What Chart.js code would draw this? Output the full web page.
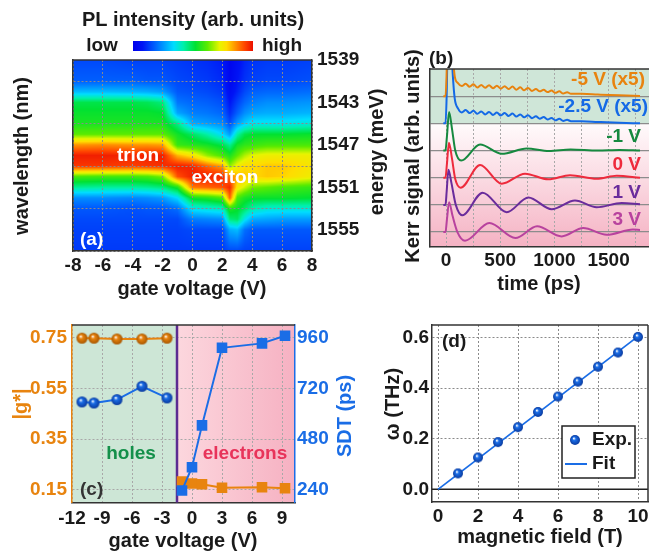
<!DOCTYPE html>
<html lang="en">
<head>
<meta charset="UTF-8">
<title>PL map, Kerr signal, g-factor and precession</title>
<script src="https://cdn.jsdelivr.net/npm/chart.js@4.4.1/dist/chart.umd.min.js"></script>
<style>
  html, body { margin: 0; padding: 0; background: #fff; overflow: hidden; }
  body { width: 649px; height: 552px; position: relative; }
  canvas { position: absolute; }
</style>
</head>
<body>
<canvas id="chartA" width="395" height="303" style="left:0px;top:0px"></canvas>
<canvas id="chartB" width="254" height="270" style="left:395px;top:30px"></canvas>
<canvas id="chartC" width="365" height="252" style="left:0px;top:300px"></canvas>
<canvas id="chartD" width="292" height="252" style="left:365px;top:300px"></canvas>
<script>
// ---------- (a) PL map ----------
const gateV = [-8, -6, -4, -3, -2, -1, 0, 1, 2, 2.5, 3, 3.5, 4, 5, 6, 8];
const wavelength = [806, 805, 804.5, 804, 803.5, 803, 802.5, 802, 801.5, 801, 800.5, 800, 799.5, 799, 798.5, 798, 797];
// one PL profile per gate voltage (same order as wavelength), 0 = low .. 1 = high
const plMap = [
  [0.15, 0.18, 0.30, 0.50, 0.53, 0.55, 0.62, 0.85, 0.98, 0.95, 0.60, 0.44, 0.24, 0.17, 0.15, 0.14, 0.13],
  [0.15, 0.18, 0.30, 0.50, 0.53, 0.55, 0.62, 0.86, 0.98, 0.95, 0.59, 0.43, 0.24, 0.17, 0.15, 0.14, 0.13],
  [0.14, 0.18, 0.29, 0.50, 0.53, 0.55, 0.62, 0.85, 0.97, 0.94, 0.59, 0.43, 0.23, 0.16, 0.15, 0.14, 0.13],
  [0.14, 0.17, 0.28, 0.49, 0.53, 0.55, 0.62, 0.85, 0.98, 0.95, 0.60, 0.44, 0.24, 0.17, 0.15, 0.14, 0.13],
  [0.14, 0.17, 0.26, 0.46, 0.52, 0.55, 0.62, 0.84, 0.98, 0.96, 0.64, 0.46, 0.26, 0.17, 0.15, 0.14, 0.13],
  [0.13, 0.15, 0.17, 0.21, 0.27, 0.45, 0.54, 0.58, 0.82, 0.98, 0.92, 0.55, 0.34, 0.20, 0.15, 0.14, 0.13],
  [0.12, 0.14, 0.16, 0.19, 0.22, 0.28, 0.48, 0.56, 0.76, 0.97, 0.98, 0.88, 0.54, 0.36, 0.22, 0.15, 0.13],
  [0.11, 0.13, 0.15, 0.18, 0.21, 0.26, 0.42, 0.54, 0.66, 0.90, 0.98, 0.90, 0.56, 0.38, 0.23, 0.15, 0.13],
  [0.09, 0.11, 0.13, 0.16, 0.19, 0.24, 0.34, 0.50, 0.60, 0.84, 0.97, 0.92, 0.60, 0.40, 0.24, 0.15, 0.13],
  [0.02, 0.03, 0.05, 0.08, 0.11, 0.16, 0.26, 0.44, 0.55, 0.66, 0.88, 0.97, 0.90, 0.56, 0.46, 0.28, 0.15],
  [0.06, 0.08, 0.10, 0.14, 0.18, 0.26, 0.42, 0.54, 0.62, 0.74, 0.82, 0.76, 0.60, 0.53, 0.48, 0.30, 0.15],
  [0.10, 0.12, 0.15, 0.19, 0.24, 0.32, 0.50, 0.57, 0.68, 0.78, 0.80, 0.70, 0.55, 0.48, 0.36, 0.20, 0.14],
  [0.12, 0.14, 0.18, 0.22, 0.27, 0.36, 0.52, 0.58, 0.72, 0.78, 0.78, 0.64, 0.53, 0.42, 0.28, 0.17, 0.14],
  [0.13, 0.15, 0.19, 0.24, 0.28, 0.36, 0.52, 0.60, 0.74, 0.80, 0.80, 0.62, 0.53, 0.38, 0.27, 0.17, 0.14],
  [0.13, 0.15, 0.19, 0.24, 0.28, 0.36, 0.52, 0.60, 0.74, 0.80, 0.79, 0.60, 0.53, 0.38, 0.26, 0.17, 0.14],
  [0.14, 0.16, 0.20, 0.25, 0.29, 0.38, 0.53, 0.60, 0.74, 0.76, 0.74, 0.58, 0.52, 0.38, 0.26, 0.17, 0.14]
];
const energyAt = [806, 804, 802, 800, 798];
const energyLabels = ['1539', '1543', '1547', '1551', '1555'];

// ---------- (b) Kerr traces ----------
const kerrLabels = ['-5 V (x5)', '-2.5 V (x5)', '-1 V', '0 V', '1 V', '3 V'];
const kerrOffset = [5, 4, 3, 2, 1, 0];
const tFast = [-25, -5, 5, 18, 30, 45, 62, 80, 110, 145, 181, 217, 253, 289, 325, 361, 397, 433, 469, 505, 541,
  577, 613, 649, 685, 721, 757, 793, 829, 865, 901, 937, 973, 1009, 1045, 1081, 1117, 1153, 1250, 1400, 1600, 1790];
const kerrM5 = [0, 0, 0.8, 3.2, 3.5, 3.0, 1.6, 0.74, 0.48, 0.370, 0.458, 0.347, 0.435, 0.323, 0.414, 0.306, 0.401,
  0.294, 0.386, 0.277, 0.369, 0.260, 0.352, 0.240, 0.328, 0.216, 0.304, 0.192, 0.263, 0.179, 0.235, 0.150, 0.205,
  0.122, 0.178, 0.095, 0.146, 0.088, 0.085, 0.06, 0.03, 0.01];
const kerrM25 = [0, 0, 0.9, 3.5, 3.8, 3.2, 1.8, 0.92, 0.55, 0.40, 0.49, 0.38, 0.46, 0.35, 0.44, 0.33, 0.42, 0.31,
  0.40, 0.29, 0.38, 0.27, 0.36, 0.25, 0.33, 0.22, 0.30, 0.19, 0.26, 0.17, 0.23, 0.14, 0.20, 0.11, 0.17, 0.09, 0.13,
  0.08, 0.075, 0.05, 0.02, 0.0];
const tM1 = [-25, -5, 8, 28, 55, 85, 140, 314, 514, 744, 950, 1150, 1400, 1600, 1790];
const kerrM1 = [0, 0, 0.5, 1.42, 0.8, 0.0, -0.37, 0.22, -0.12, 0.07, -0.02, 0.04, 0.0, 0.02, 0.0];
const t0 = [-25, -5, 8, 27, 55, 85, 135, 314, 514, 729, 944, 1144, 1390, 1575, 1790];
const kerr0 = [0, 0, 0.5, 1.29, 0.7, -0.05, -0.37, 0.47, -0.22, 0.15, -0.06, 0.09, -0.04, 0.07, 0.0];
const tP1 = [-25, -5, 6, 22, 50, 90, 150, 338, 560, 760, 975, 1190, 1390, 1621, 1790];
const kerrP1 = [0, 0, 0.5, 1.29, 0.8, 0.0, -0.38, 0.45, -0.27, 0.27, -0.16, 0.16, -0.09, 0.07, 0.02];
const tP3 = [-25, -5, 8, 28, 60, 105, 175, 400, 640, 840, 1067, 1266, 1482, 1725, 1790];
const kerrP3 = [0, 0, 0.45, 1.10, 0.6, 0.0, -0.32, 0.33, -0.22, 0.21, -0.16, 0.15, -0.10, 0.09, 0.08];

// ---------- (c) g-factor and spin dephasing time ----------
const holesV = [-11, -9.8, -7.5, -5, -2.5];
const electronsV = [-1, 0, 1, 3, 7, 9.3];
const gHoles = [0.748, 0.748, 0.745, 0.745, 0.748];
const gElectrons = [0.183, 0.175, 0.172, 0.158, 0.160, 0.156];
const sdtHoles = [656, 651, 667, 730, 675];
const sdtElectrons = [237, 347, 545, 912, 933, 969];

// ---------- (d) precession frequency ----------
const fieldT = [1, 2, 3, 4, 5, 6, 7, 8, 9, 10];
const omegaTHz = [0.063, 0.126, 0.187, 0.246, 0.306, 0.367, 0.426, 0.485, 0.541, 0.603];
const fitT = [0, 10];
const fitTHz = [0, 0.605];

// ---------- styling ----------
const FONT = "'Liberation Sans', Arial, Helvetica, sans-serif";
Chart.defaults.font.family = FONT;
Chart.defaults.font.size = 19;
Chart.defaults.font.weight = 'bold';
Chart.defaults.color = '#1a1a1a';
Chart.defaults.animation = false;
Chart.defaults.responsive = false;
Chart.defaults.plugins.legend.display = false;
Chart.defaults.plugins.tooltip.enabled = false;

const ORANGE = '#e8840f', BLUE = '#1a6de6';
const traceColors = ['#e8830f', '#1469e6', '#16893f', '#ee2a3c', '#6a2c9c', '#b8429e'];
const cmapPos = [0, 0.08, 0.2, 0.34, 0.42, 0.52, 0.62, 0.72, 0.78, 0.86, 0.93, 1];
const cmapRgb = [[0, 0, 235], [0, 20, 245], [0, 110, 255], [0, 220, 255], [0, 240, 170], [0, 225, 50],
  [90, 235, 0], [230, 245, 0], [255, 220, 0], [255, 140, 0], [255, 70, 0], [235, 15, 0]];

function colormap(v) {
  v = Math.max(0, Math.min(1, v));
  for (let k = 1; k < cmapPos.length; k++) {
    if (v <= cmapPos[k]) {
      const t = (v - cmapPos[k - 1]) / (cmapPos[k] - cmapPos[k - 1]);
      return cmapRgb[k - 1].map((c, n) => c + t * (cmapRgb[k][n] - c));
    }
  }
  return cmapRgb[cmapRgb.length - 1];
}

// index + fraction of v inside a monotonic list of nodes
function locate(nodes, v) {
  for (let k = 0; k < nodes.length - 1; k++) {
    const a = nodes[k], b = nodes[k + 1];
    if ((v - a) * (v - b) <= 0) return [k, (v - a) / (b - a)];
  }
  const asc = nodes[1] > nodes[0];
  return (asc ? v < nodes[0] : v > nodes[0]) ? [0, 0] : [nodes.length - 2, 1];
}

function text(ctx, str, x, y, o = {}) {
  ctx.save();
  ctx.font = `bold ${o.size || 19}px ${FONT}`;
  ctx.fillStyle = o.color || '#1a1a1a';
  ctx.textAlign = o.align || 'center';
  ctx.textBaseline = 'middle';
  ctx.translate(x, y);
  if (o.rotate) ctx.rotate(o.rotate);
  ctx.fillText(str, 0, 0);
  ctx.restore();
}

function line(ctx, x1, y1, x2, y2, color, width) {
  ctx.save();
  ctx.strokeStyle = color;
  ctx.lineWidth = width;
  ctx.beginPath();
  ctx.moveTo(x1, y1);
  ctx.lineTo(x2, y2);
  ctx.stroke();
  ctx.restore();
}

function sphere(r, body, rim) {
  const c = document.createElement('canvas');
  const s = Math.ceil(2 * r + 2);
  c.width = c.height = s;
  const g = c.getContext('2d');
  const m = s / 2;
  const grad = g.createRadialGradient(m - 0.25 * r, m - 0.35 * r, 0.05 * r, m, m, r);
  grad.addColorStop(0, '#ffffff');
  grad.addColorStop(0.32, body);
  grad.addColorStop(1, rim);
  g.fillStyle = grad;
  g.beginPath();
  g.arc(m, m, r, 0, Math.PI * 2);
  g.fill();
  return c;
}

const fixW = w => s => { s.width = w; };
const fixH = h => s => { s.height = h; };
const ticksAt = list => s => { s.ticks = list.map(v => ({value: v})); };
const up = -Math.PI / 2;

// ---------- (a) ----------
const decoA = {
  id: 'decoA',
  beforeDraw(chart) {
    const {ctx, chartArea: a, scales} = chart;
    const x0 = Math.round(a.left), y0 = Math.round(a.top);
    const w = Math.round(a.right) - x0, h = Math.round(a.bottom) - y0;
    const img = ctx.createImageData(w, h);
    const cols = [], rows = [];
    for (let i = 0; i < w; i++) cols.push(locate(gateV, scales.x.getValueForPixel(x0 + i + 0.5)));
    for (let j = 0; j < h; j++) rows.push(locate(wavelength, scales.y.getValueForPixel(y0 + j + 0.5)));
    for (let j = 0; j < h; j++) {
      const [r, fr] = rows[j];
      for (let i = 0; i < w; i++) {
        const [c, fc] = cols[i];
        const v = (1 - fc) * ((1 - fr) * plMap[c][r] + fr * plMap[c][r + 1]) +
                  fc * ((1 - fr) * plMap[c + 1][r] + fr * plMap[c + 1][r + 1]);
        const rgb = colormap(v);
        const k = 4 * (j * w + i);
        img.data[k] = rgb[0]; img.data[k + 1] = rgb[1]; img.data[k + 2] = rgb[2]; img.data[k + 3] = 255;
      }
    }
    ctx.putImageData(img, x0, y0);
  },
  afterDraw(chart) {
    const {ctx, chartArea: a} = chart;
    line(ctx, a.left, a.top, a.right, a.top, '#333', 1.5);
    const g = ctx.createLinearGradient(133, 0, 253, 0);
    cmapPos.forEach((p, i) => g.addColorStop(p, `rgb(${cmapRgb[i].join(',')})`));
    ctx.fillStyle = g;
    ctx.fillRect(133, 41, 120, 10);
    text(ctx, 'PL intensity (arb. units)', 193, 20, {size: 20});
    text(ctx, 'low', 102, 46);
    text(ctx, 'high', 282, 46);
    text(ctx, 'trion', 138, 156, {color: '#fff'});
    text(ctx, 'exciton', 225, 178, {color: '#fff'});
    text(ctx, '(a)', 80, 240, {color: '#fff', align: 'left'});
    text(ctx, 'wavelength (nm)', 22, 156, {rotate: up, size: 20});
    text(ctx, 'gate voltage (V)', 192, 289, {size: 20});
    text(ctx, 'energy (meV)', 377, 152, {rotate: up, size: 20});
  }
};

new Chart(document.getElementById('chartA'), {
  type: 'scatter',
  data: {datasets: []},
  options: {
    layout: {padding: {top: 60, left: 0, right: 0, bottom: 0}},
    scales: {
      x: {
        type: 'linear', min: -8, max: 8,
        ticks: {stepSize: 2, padding: 3, autoSkip: false, maxRotation: 0},
        grid: {color: '#8a8a8a', lineWidth: 1, drawTicks: false},
        border: {color: '#333', width: 1.5, dash: [2, 2]},
        afterFit: fixH(52)
      },
      y: {
        type: 'linear', min: 797, max: 806,
        ticks: {stepSize: 1, padding: 5, callback: v => (v % 2 === 0 ? v : '')},
        grid: {color: '#8a8a8a', lineWidth: 1, drawTicks: false},
        border: {color: '#333', width: 1.5, dash: [2, 2]},
        afterFit: fixW(73)
      },
      y2: {
        type: 'linear', position: 'right', min: 797, max: 806,
        afterBuildTicks: ticksAt(energyAt),
        ticks: {padding: 5, callback: v => energyLabels[energyAt.indexOf(v)]},
        grid: {drawOnChartArea: false, drawTicks: false},
        border: {color: '#333', width: 1.5},
        afterFit: fixW(83)
      }
    }
  },
  plugins: [decoA]
});

// ---------- (b) ----------
const kerrTimes = [tFast, tFast, tM1, t0, tP1, tP3];
const kerrValues = [kerrM5, kerrM25, kerrM1, kerr0, kerrP1, kerrP3];
const labelPos = [[250, 50], [253, 77], [246, 107], [246, 135], [246, 162.5], [246, 189.5]];

const decoB = {
  id: 'decoB',
  beforeDraw(chart) {
    const {ctx, chartArea: a, scales: {y}} = chart;
    const yh = y.getPixelForValue(4);
    ctx.fillStyle = '#cfe6d8';
    ctx.fillRect(a.left, a.top, a.right - a.left, yh - a.top);
    const g = ctx.createLinearGradient(0, yh, 0, a.bottom);
    g.addColorStop(0, '#fffbfc');
    g.addColorStop(1, '#f5b2c3');
    ctx.fillStyle = g;
    ctx.fillRect(a.left, yh, a.right - a.left, a.bottom - yh);
  },
  afterDraw(chart) {
    const {ctx, chartArea: a} = chart;
    line(ctx, a.left, a.top, a.right, a.top, '#333', 1.5);
    kerrLabels.forEach((s, i) => text(ctx, s, labelPos[i][0], labelPos[i][1], {color: traceColors[i], align: 'right'}));
    text(ctx, '(b)', 34, 29, {align: 'left'});
    text(ctx, 'Kerr signal (arb. units)', 18, 126, {rotate: up, size: 20});
    text(ctx, 'time (ps)', 144, 254, {size: 20});
  }
};

new Chart(document.getElementById('chartB'), {
  type: 'line',
  data: {
    datasets: kerrValues.map((vals, i) => ({
      label: kerrLabels[i],
      data: vals.map((v, k) => ({x: kerrTimes[i][k], y: kerrOffset[i] + v})),
      borderColor: traceColors[i],
      borderWidth: 2,
      pointRadius: 0,
      cubicInterpolationMode: 'monotone'
    }))
  },
  options: {
    layout: {padding: {top: 39, left: 0, right: 0, bottom: 0}},
    scales: {
      x: {
        type: 'linear', min: -148, max: 1873,
        afterBuildTicks: ticksAt([0, 250, 500, 750, 1000, 1250, 1500, 1750]),
        ticks: {padding: 2, autoSkip: false, maxRotation: 0, callback: v => (v % 500 === 0 ? v : '')},
        grid: {color: '#a8a8a8', lineWidth: 1, drawTicks: false},
        border: {color: '#333', width: 1.5, dash: [2, 2]},
        afterFit: fixH(53)
      },
      y: {
        type: 'linear', min: -0.55, max: 6,
        afterBuildTicks: ticksAt([0, 1, 2, 3, 4, 5]),
        ticks: {display: false},
        grid: {color: '#8c8c8c', lineWidth: 1.3, drawTicks: false},
        border: {color: '#333', width: 1.5},
        afterFit: fixW(35)
      }
    }
  },
  plugins: [decoB]
});

// ---------- (c) ----------
const dividerV = -1.5;
const decoC = {
  id: 'decoC',
  beforeDraw(chart) {
    const {ctx, chartArea: a, scales: {x}} = chart;
    const xd = x.getPixelForValue(dividerV);
    ctx.fillStyle = '#cde6d6';
    ctx.fillRect(a.left, a.top, xd - a.left, a.bottom - a.top);
    const g = ctx.createLinearGradient(xd, 0, a.right, 0);
    g.addColorStop(0, '#fcd7de');
    g.addColorStop(1, '#f6b1c2');
    ctx.fillStyle = g;
    ctx.fillRect(xd, a.top, a.right - xd, a.bottom - a.top);
  },
  beforeDatasetsDraw(chart) {
    const {ctx, chartArea: a, scales: {x}} = chart;
    const xd = x.getPixelForValue(dividerV);
    line(ctx, xd, a.top, xd, a.bottom, '#5b2b91', 2.5);
  },
  afterDraw(chart) {
    const {ctx, chartArea: a} = chart;
    line(ctx, a.left, a.top, a.right, a.top, '#333', 1.5);
    text(ctx, 'holes', 131, 154, {color: '#13904a'});
    text(ctx, 'electrons', 245, 154, {color: '#e8335a'});
    text(ctx, '(c)', 80, 190, {color: '#333', align: 'left'});
    text(ctx, '|g*|', 21, 104, {rotate: up, size: 20, color: ORANGE});
    text(ctx, 'SDT (ps)', 345, 116, {rotate: up, size: 20, color: BLUE});
    text(ctx, 'gate voltage (V)', 183, 241, {size: 20});
  }
};

const sphereOrange = sphere(5.5, ORANGE, '#a85600');
const sphereBlueC = sphere(5.5, BLUE, '#0a3a9e');
const sphereBlueD = sphere(5, BLUE, '#0a3a9e');

new Chart(document.getElementById('chartC'), {
  type: 'line',
  data: {
    datasets: [
      {label: 'SDT holes', yAxisID: 'y2', data: holesV.map((v, i) => ({x: v, y: sdtHoles[i]})),
        borderColor: BLUE, borderWidth: 2, pointStyle: sphereBlueC, pointRadius: 5},
      {label: 'SDT electrons', yAxisID: 'y2', data: electronsV.map((v, i) => ({x: v, y: sdtElectrons[i]})),
        borderColor: BLUE, backgroundColor: BLUE, borderWidth: 2, pointStyle: 'rect', pointRadius: 7.5, pointBorderWidth: 0},
      {label: '|g*| holes', yAxisID: 'y', data: holesV.map((v, i) => ({x: v, y: gHoles[i]})),
        borderColor: ORANGE, borderWidth: 2, pointStyle: sphereOrange, pointRadius: 5},
      {label: '|g*| electrons', yAxisID: 'y', data: electronsV.map((v, i) => ({x: v, y: gElectrons[i]})),
        borderColor: ORANGE, backgroundColor: ORANGE, borderWidth: 2, pointStyle: 'rect', pointRadius: 7.5, pointBorderWidth: 0}
    ]
  },
  options: {
    layout: {padding: {top: 25, left: 0, right: 0, bottom: 0}},
    scales: {
      x: {
        type: 'linear', min: -12, max: 10.3,
        afterBuildTicks: ticksAt([-12, -9, -6, -3, 0, 3, 6, 9]),
        ticks: {padding: 5, autoSkip: false, maxRotation: 0},
        grid: {color: '#a8a8a8', lineWidth: 1, drawTicks: false},
        border: {color: '#333', width: 1.5, dash: [2, 2]},
        afterFit: fixH(49.5)
      },
      y: {
        type: 'linear', min: 0.1, max: 0.8,
        afterBuildTicks: ticksAt([0.15, 0.35, 0.55, 0.75]),
        ticks: {padding: 5, color: ORANGE, callback: v => v.toFixed(2)},
        grid: {color: '#a8a8a8', lineWidth: 1, drawTicks: false},
        border: {color: ORANGE, width: 1.5, dash: [2, 2]},
        afterFit: fixW(72)
      },
      y2: {
        type: 'linear', position: 'right', min: 180, max: 1020,
        afterBuildTicks: ticksAt([240, 480, 720, 960]),
        ticks: {padding: 2, color: BLUE},
        grid: {drawOnChartArea: false, drawTicks: false},
        border: {color: BLUE, width: 1.5},
        afterFit: fixW(70)
      }
    }
  },
  plugins: [decoC]
});

// ---------- (d) ----------
const decoD = {
  id: 'decoD',
  beforeDatasetsDraw(chart) {
    const {ctx, chartArea: a, scales: {y}} = chart;
    const y0 = y.getPixelForValue(0);
    line(ctx, a.left, y0, a.right, y0, '#222', 1.5);
  },
  afterDraw(chart) {
    const {ctx, chartArea: a} = chart;
    line(ctx, a.left, a.top, a.right, a.top, '#333', 1.5);
    line(ctx, a.right, a.top, a.right, a.bottom, '#333', 1.5);
    // legend box
    ctx.save();
    ctx.fillStyle = '#fff';
    ctx.fillRect(197, 126, 73, 52);
    ctx.strokeStyle = '#222';
    ctx.lineWidth = 1.5;
    ctx.strokeRect(197, 126, 73, 52);
    ctx.restore();
    ctx.drawImage(sphereBlueD, 210 - sphereBlueD.width / 2, 140 - sphereBlueD.height / 2);
    text(ctx, 'Exp.', 227, 140, {align: 'left'});
    line(ctx, 200, 164, 222, 164, BLUE, 2);
    text(ctx, 'Fit', 227, 164, {align: 'left'});
    text(ctx, '(d)', 77, 42, {align: 'left'});
    text(ctx, 'ω (THz)', 28, 104, {rotate: up, size: 20});
    text(ctx, 'magnetic field (T)', 175, 237, {size: 20});
  }
};

new Chart(document.getElementById('chartD'), {
  type: 'line',
  data: {
    datasets: [
      {label: 'Exp.', data: fieldT.map((b, i) => ({x: b, y: omegaTHz[i]})), showLine: false,
        pointStyle: sphereBlueD, pointRadius: 5},
      {label: 'Fit', data: fitT.map((b, i) => ({x: b, y: fitTHz[i]})), borderColor: BLUE,
        borderWidth: 1.8, pointRadius: 0}
    ]
  },
  options: {
    layout: {padding: {top: 25, left: 0, right: 9, bottom: 0}},
    scales: {
      x: {
        type: 'linear', min: -0.3, max: 10.5,
        afterBuildTicks: ticksAt([0, 2, 4, 6, 8, 10]),
        ticks: {padding: 3, autoSkip: false, maxRotation: 0},
        grid: {color: '#8a8a8a', lineWidth: 1, drawTicks: false},
        border: {color: '#333', width: 1.5, dash: [2, 2]},
        afterFit: fixH(50)
      },
      y: {
        type: 'linear', min: -0.05, max: 0.65,
        afterBuildTicks: ticksAt([0, 0.2, 0.4, 0.6]),
        ticks: {padding: 3, callback: v => v.toFixed(1)},
        grid: {color: '#8a8a8a', lineWidth: 1, drawTicks: false},
        border: {color: '#333', width: 1.5, dash: [2, 2]},
        afterFit: fixW(67)
      }
    }
  },
  plugins: [decoD]
});
</script>
</body>
</html>
